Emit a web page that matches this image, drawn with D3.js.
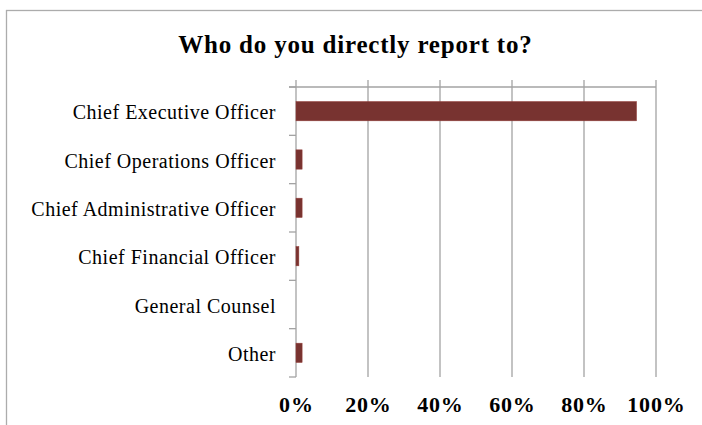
<!DOCTYPE html>
<html>
<head>
<meta charset="utf-8">
<script src="https://cdn.jsdelivr.net/npm/d3@7/dist/d3.min.js"></script>
<style>
  html, body { margin: 0; padding: 0; background: #fff; }
  svg { display: block; }
  text { font-family: "Liberation Serif", "Times New Roman", serif; fill: #000; }
</style>
</head>
<body>
<svg id="chart" width="702" height="425"></svg>
<script>
// Survey answers: who the respondent reports to (share of respondents)
const categories = [
  "Chief Executive Officer",
  "Chief Operations Officer",
  "Chief Administrative Officer",
  "Chief Financial Officer",
  "General Counsel",
  "Other"
];
const shares = [0.946, 0.017, 0.017, 0.008, 0, 0.017];
const tickValues = [0, 0.2, 0.4, 0.6, 0.8, 1.0];
const title = "Who do you directly report to?";

const svg = d3.select("#chart");
const W = 702, H = 425;
const plot = { left: 296, right: 656, top: 87, bottom: 377 };
const gridColor = "#a3a3a3";
const barColor = "#783330";

// chart frame (right and bottom edges fall outside the view)
svg.append("rect")
  .attr("x", 6.5).attr("y", 10.5)
  .attr("width", W + 20).attr("height", H + 20)
  .attr("fill", "#fff")
  .attr("stroke", "#acacac").attr("stroke-width", 1.3);

const x = d3.scaleLinear().domain([0, 1]).range([plot.left, plot.right]);
const y = d3.scaleBand().domain(categories).range([plot.top, plot.bottom]).paddingInner(0.6).paddingOuter(0.3);
const yEdges = d3.scaleLinear().domain([0, categories.length]).range([plot.top, plot.bottom]);

// vertical gridlines, reaching a little above the top axis as tick marks
svg.append("g").selectAll("line").data(tickValues).join("line")
  .attr("x1", d => x(d)).attr("x2", d => x(d))
  .attr("y1", plot.top - 7).attr("y2", plot.bottom)
  .attr("stroke", gridColor).attr("stroke-width", 1.3);

// top value axis line
svg.append("line")
  .attr("x1", plot.left - 7).attr("x2", plot.right)
  .attr("y1", plot.top).attr("y2", plot.top)
  .attr("stroke", gridColor).attr("stroke-width", 1.3);

// category ticks on the left axis
svg.append("g").selectAll("line").data(d3.range(categories.length + 1)).join("line")
  .attr("x1", plot.left - 7).attr("x2", plot.left)
  .attr("y1", d => yEdges(d)).attr("y2", d => yEdges(d))
  .attr("stroke", gridColor).attr("stroke-width", 1.3);

// bars
svg.append("g").selectAll("rect").data(categories).join("rect")
  .attr("x", x(0))
  .attr("y", d => y(d))
  .attr("width", (d, i) => x(shares[i]) - x(0))
  .attr("height", y.bandwidth())
  .attr("fill", barColor)
  .attr("stroke", d3.color(barColor).brighter(0.6))
  .attr("stroke-width", 0.5);

// category labels
svg.append("g").selectAll("text").data(categories).join("text")
  .attr("x", plot.left - 20)
  .attr("y", d => y(d) + y.bandwidth() / 2)
  .attr("dy", "0.4em")
  .attr("text-anchor", "end")
  .style("font-size", "20px")
  .style("letter-spacing", "0.5px")
  .text(d => d);

// value axis labels at the bottom
svg.append("g").selectAll("text").data(tickValues).join("text")
  .attr("x", d => x(d) + 0.4)
  .attr("y", 412)
  .attr("text-anchor", "middle")
  .style("font-size", "22px")
  .style("font-weight", "bold")
  .style("letter-spacing", "0.8px")
  .text(d => d3.format(".0%")(d));

// title
svg.append("text")
  .attr("x", 355.4).attr("y", 53)
  .attr("text-anchor", "middle")
  .style("font-size", "25px")
  .style("font-weight", "bold")
  .style("letter-spacing", "0.8px")
  .text(title);
</script>
</body>
</html>
